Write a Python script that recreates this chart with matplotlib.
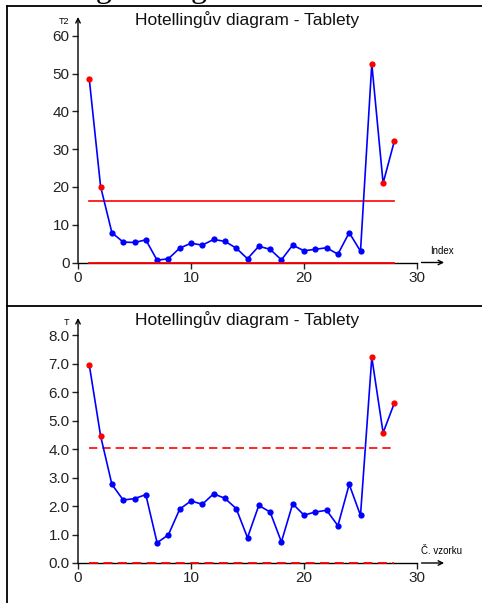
import matplotlib.pyplot as plt
from matplotlib.lines import Line2D

plt.rcParams['font.family'] = ['Liberation Sans', 'DejaVu Sans']

# data
sample = list(range(1, 29))
t2 = [48.5, 20.1, 7.9, 5.4, 5.3, 6.0, 0.6, 1.0, 3.8, 5.1, 4.6, 6.1, 5.6, 3.8,
      1.0, 4.3, 3.5, 0.7, 4.6, 3.1, 3.5, 3.9, 2.2, 7.9, 3.0, 52.6, 21.0, 32.2]
t = [6.95, 4.46, 2.76, 2.21, 2.26, 2.4, 0.71, 0.99, 1.89, 2.18, 2.06, 2.43,
     2.27, 1.91, 0.89, 2.02, 1.79, 0.74, 2.08, 1.68, 1.79, 1.85, 1.31, 2.76,
     1.67, 7.22, 4.57, 5.62]
t2_limit = 16.4
t_limit = 4.04
title = 'Hotellingův diagram - Tablety'

W, H = 482, 603
fig = plt.figure(figsize=(W / 100, H / 100), dpi=100)


def fx(px):
    return px / W


def fy(py):
    return 1 - py / H


def panel(ax, y, limit, ylim, yticks, ytick_fmt, ylabel, xlabel, dashed):
    ax.plot(sample, y, color='#0000ff', lw=1.2, zorder=3)
    out = [v > limit for v in y]
    for xi, yi, o in zip(sample, y, out):
        ax.plot(xi, yi, 'o', ms=4.5, mec='none',
                color='#ff0000' if o else '#0000ff', zorder=4)
    ls = (0, (5, 3)) if dashed else '-'
    ax.plot([1, 28], [limit, limit], color='#ff0000', lw=1.2, ls=ls, zorder=2)
    ax.plot([1, 28], [0, 0], color='#ff0000', lw=1.3, ls=ls, zorder=5,
            clip_on=False)
    ax.set_xlim(0, 30)
    ax.set_ylim(ylim)
    ax.set_xticks([0, 10, 20, 30])
    ax.set_yticks(yticks)
    ax.set_yticklabels([ytick_fmt % v for v in yticks])
    for s in ['top', 'right', 'left']:
        ax.spines[s].set_visible(False)
    ax.spines['bottom'].set_linewidth(1.0)
    ax.tick_params(direction='out', length=4, width=1, labelsize=11, pad=2,
                   colors='#222222')
    # y axis with arrow
    ax.annotate('', xy=(0, 1), xycoords='axes fraction', xytext=(0, 0),
                textcoords='axes fraction',
                arrowprops=dict(arrowstyle='->', lw=1.0, color='k',
                                shrinkA=0, shrinkB=0,
                                mutation_scale=8))
    ax.text(-0.025, 1.0, ylabel, transform=ax.transAxes, fontsize=6.5,
            ha='right', va='top')
    # x axis arrow
    ax.annotate('', xy=(32.4, 0), xycoords='data', xytext=(30.4, 0),
                textcoords='data', annotation_clip=False,
                arrowprops=dict(arrowstyle='->', lw=1.0, color='k',
                                shrinkA=0, shrinkB=0, mutation_scale=8))
    ax.annotate(xlabel, xy=(32.2, 0), xycoords='data', xytext=(0, 5),
                textcoords='offset points', fontsize=7, ha='center',
                va='bottom', annotation_clip=False)


# top panel
ax1 = fig.add_axes([fx(78), fy(262.5), fx(339), fy(17) - fy(262.5)])
panel(ax1, t2, t2_limit, (0, 65), [0, 10, 20, 30, 40, 50, 60], '%d',
      'T2', 'Index', False)
fig.text(fx(247), fy(11), title, fontsize=12.5, ha='center', va='top',
         color='#111111')

# bottom panel
ax2 = fig.add_axes([fx(78), fy(563), fx(339), fy(318) - fy(563)])
panel(ax2, t, t_limit, (0, 8.6), [0, 1, 2, 3, 4, 5, 6, 7, 8], '%.1f',
      'T', 'Č. vzorku', True)
fig.text(fx(247), fy(311), title, fontsize=12.5, ha='center', va='top',
         color='#111111')

# frame lines of the two panels
lk = dict(color='k', lw=1.3, transform=fig.transFigure)
fig.add_artist(Line2D([fx(7), fx(7)], [fy(6), 0], **lk))
fig.add_artist(Line2D([fx(7), 1], [fy(6), fy(6)], **lk))
fig.add_artist(Line2D([fx(7), 1], [fy(306), fy(306)], **lk))

# cut-off heading above the chart
fig.text(fx(-9), fy(-3.5), 'Hotellingův diagram', fontsize=23,
         family='Liberation Serif', ha='left', va='baseline')

fig.savefig('out.png', dpi=100)
